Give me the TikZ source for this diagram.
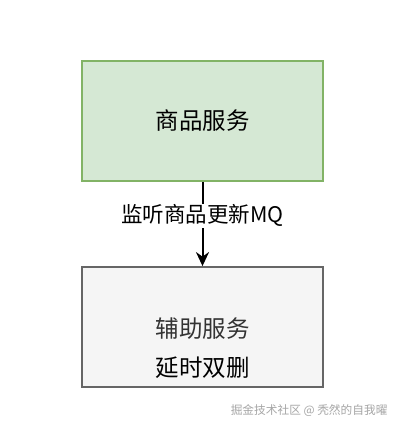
\documentclass[tikz,border=0pt]{standalone}
\usepackage{fontspec}
\setmainfont{Noto Sans CJK SC}
\usepackage{xcolor}
\usepackage{tikz}
\usetikzlibrary{arrows.meta,positioning}
\definecolor{goodsfill}{HTML}{D5E8D4}
\definecolor{goodsline}{HTML}{82B366}
\definecolor{auxfill}{HTML}{F5F5F5}
\definecolor{auxline}{HTML}{666666}
\definecolor{auxtext}{HTML}{333333}
\definecolor{marktext}{HTML}{A6A6A6}
\tikzset{
  svcbox/.style={rectangle,minimum width=241pt,minimum height=120pt,line width=1.8pt,inner sep=0pt},
  bigtext/.style={font=\fontsize{23.5}{28}\selectfont},
}

\begin{document}
\begin{tikzpicture}[x=1pt,y=-1pt,>={Stealth[length=14pt,width=13pt]}]
\useasboundingbox[fill=white] (0,0) rectangle (402,430);
\node[svcbox,draw=goodsline,fill=goodsfill,bigtext] (goods) at (202.5,121) {商品服务};
\node[svcbox,draw=auxline,fill=auxfill] (aux) at (202.5,327) {};
\draw[->,line width=2pt] (goods.south) -- (aux.north)
  node[pos=0.4,fill=white,inner sep=1pt,font=\fontsize{21.5}{25}\selectfont] (mq) {监听商品更新MQ};
\node[auxtext,bigtext] (auxname) at (202.5,328.5) {辅助服务};
\node[black,bigtext] (deldouble) at (202.5,367.5) {延时双删};
\node[marktext,font=\fontsize{11.7}{14}\selectfont,anchor=east] (mark) at (391,411) {掘金技术社区 @ 秃然的自我曜};
\end{tikzpicture}
\end{document}
